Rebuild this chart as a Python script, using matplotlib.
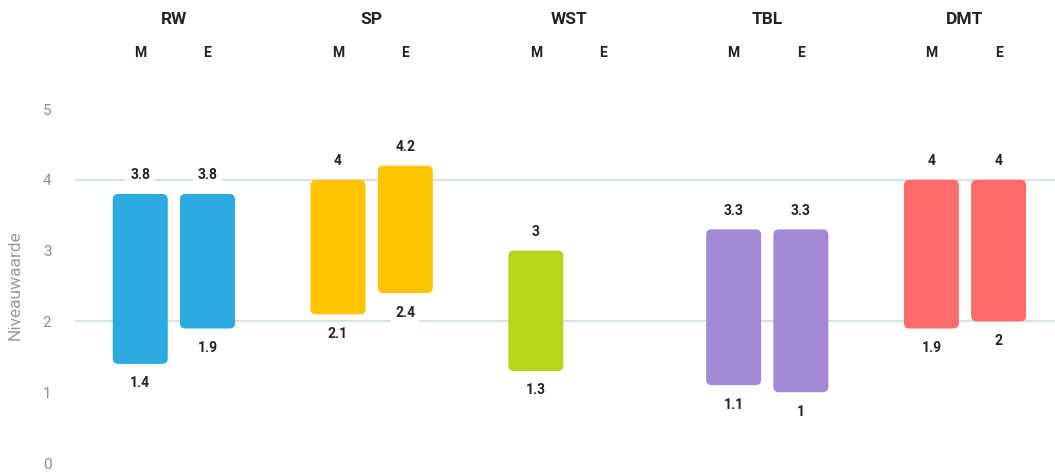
import matplotlib
matplotlib.use("Agg")
import matplotlib.pyplot as plt
from matplotlib.patches import FancyBboxPatch
import numpy as np

groups = ["RW", "SP", "WST", "TBL", "DMT"]
sub_labels = ["M", "E"]
low_M = [1.4, 2.1, 1.3, 1.1, 1.9]
high_M = [3.8, 4.0, 3.0, 3.3, 4.0]
low_E = [1.9, 2.4, None, 1.0, 2.0]
high_E = [3.8, 4.2, None, 3.3, 4.0]
colors = ["#2BA9E1", "#FFC400", "#B6D718", "#A389D4", "#FF6B6B"]
yticks = [0, 1, 2, 3, 4, 5]
grid_vals = [2, 4]

plt.rcParams['font.family'] = ['Roboto', 'DejaVu Sans']

fig = plt.figure(figsize=(10.55, 4.74), dpi=100)
ax = fig.add_axes([75/1055, 0, 980/1055, 1])
ax.set_ylim(-0.155, 6.54)
ax.set_xlim(-0.50, 4.455)

off = 0.17
width = 0.278

for v in grid_vals:
    ax.axhline(v, color="#CDD8E3", lw=1.1, zorder=0)

def fmt(v):
    return ("%g" % v)

x = np.arange(len(groups))
for si, (lows, highs, dx) in enumerate([(low_M, high_M, -off), (low_E, high_E, off)]):
    for i in range(len(groups)):
        lo, hi = lows[i], highs[i]
        if lo is None:
            continue
        bars = ax.bar(x[i] + dx, hi - lo, bottom=lo, width=width, color=colors[i], alpha=0)
        for b in bars:
            bx, by = b.get_x(), b.get_y()
            bw, bh = b.get_width(), b.get_height()
            p = FancyBboxPatch((bx, by), bw, bh,
                               boxstyle="round,pad=0,rounding_size=0.028",
                               mutation_aspect=2.75, fc=colors[i], ec="none", zorder=2)
            ax.add_patch(p)
        bb = dict(boxstyle="square,pad=0.3", fc="white", ec="none")
        ax.annotate(fmt(hi), (x[i] + dx, hi), xytext=(0, 13.5), textcoords="offset points",
                    ha="center", va="center", fontsize=10, fontweight="bold",
                    color="#222222", bbox=bb, zorder=3)
        ax.annotate(fmt(lo), (x[i] + dx, lo), xytext=(0, -14), textcoords="offset points",
                    ha="center", va="center", fontsize=10, fontweight="bold",
                    color="#222222", bbox=bb, zorder=3)

for i, g in enumerate(groups):
    ax.text(x[i], 6.26, g, ha="center", va="center", fontsize=12.5, fontweight="bold", color="#222222")
    ax.text(x[i] - off, 5.79, sub_labels[0], ha="center", va="center", fontsize=10, fontweight="bold", color="#222222")
    ax.text(x[i] + off, 5.79, sub_labels[1], ha="center", va="center", fontsize=10, fontweight="bold", color="#222222")

ax.set_yticks(yticks)
ax.set_yticklabels([str(t) for t in yticks], color="#8E8E8E", fontsize=11)
ax.tick_params(axis="y", length=0, pad=17)
ax.set_xticks([])
for s in ax.spines.values():
    s.set_visible(False)
ax.set_ylabel("Niveauwaarde", fontsize=12.5, color="#9A9A9A")
ax.yaxis.set_label_coords(-52/980, (2.51 + 0.155) / 6.695)

fig.savefig("out.png", dpi=100, facecolor="white")
